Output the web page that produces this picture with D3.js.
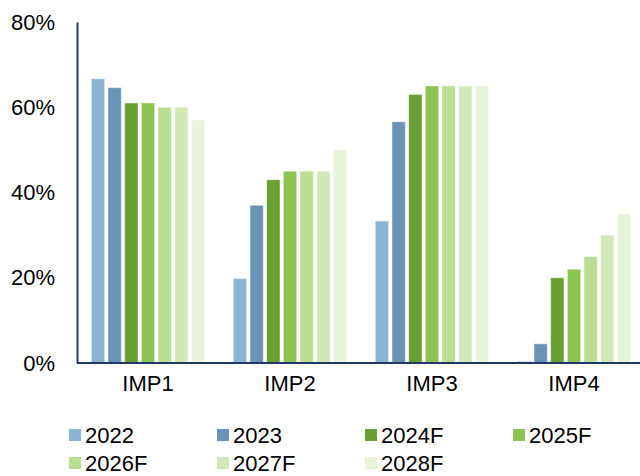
<!DOCTYPE html>
<html>
<head>
<meta charset="utf-8">
<script src="https://cdn.jsdelivr.net/npm/d3@7"></script>
<style>
  html, body { margin: 0; padding: 0; background: #fff; }
  svg { display: block; font-family: "Liberation Sans", Arial, sans-serif; }
</style>
</head>
<body>
<svg id="chart" width="640" height="476"></svg>
<script>
// Share by category and year (percent)
const categories = ["IMP1", "IMP2", "IMP3", "IMP4"];
const seriesNames = ["2022", "2023", "2024F", "2025F", "2026F", "2027F", "2028F"];
const values2022 = [66.7, 19.8, 33.3, 0.4];
const values2023 = [64.6, 37.0, 56.6, 4.5];
const values2024F = [61.0, 43.0, 63.0, 20.0];
const values2025F = [61.0, 45.0, 65.0, 22.0];
const values2026F = [60.0, 45.0, 65.0, 25.0];
const values2027F = [60.0, 45.0, 65.0, 30.0];
const values2028F = [57.0, 50.0, 65.0, 35.0];
const seriesValues = [values2022, values2023, values2024F, values2025F, values2026F, values2027F, values2028F];
const seriesColors = ["#8db3d3", "#6b93b5", "#6a9f34", "#8dc451", "#bcdd94", "#d3e8b9", "#e8f3db"];
const yTicks = [0, 20, 40, 60, 80];

const svg = d3.select("#chart");
const plot = { left: 77, right: 645, top: 22, bottom: 363 };

const x0 = d3.scaleBand().domain(categories).range([plot.left, plot.right])
  .paddingInner(0.178).paddingOuter(0.089);
const x1 = d3.scaleBand().domain(seriesNames).range([0, x0.bandwidth()])
  .paddingInner(0.2).paddingOuter(0.1);
const y = d3.scaleLinear().domain([0, 80]).range([plot.bottom, plot.top]);
const color = d3.scaleOrdinal().domain(seriesNames).range(seriesColors);

// Bars
const groups = svg.append("g").selectAll("g")
  .data(seriesNames.map((name, i) => ({ name, values: seriesValues[i] })))
  .join("g")
  .attr("fill", d => color(d.name));

groups.selectAll("rect")
  .data(d => d.values.map((v, j) => ({ name: d.name, cat: categories[j], v })))
  .join("rect")
  .attr("x", d => x0(d.cat) + x1(d.name))
  .attr("width", x1.bandwidth())
  .attr("y", d => y(d.v))
  .attr("height", d => y(0) - y(d.v))
  .attr("stroke", "#ffffff")
  .attr("stroke-opacity", 0.45)
  .attr("stroke-width", 1);

// Y axis
const yAxis = d3.axisLeft(y).tickValues(yTicks).tickSize(0).tickPadding(22)
  .tickFormat(d => d + "%");
const gy = svg.append("g").attr("transform", `translate(${plot.left},0)`).call(yAxis);
gy.select(".domain").attr("stroke", "#1f3864").attr("stroke-width", 2);
gy.selectAll("text").attr("font-size", 22).attr("fill", "#000")
  .attr("font-family", "Liberation Sans, Arial, sans-serif");

// X axis
const xAxis = d3.axisBottom(x0).tickSize(0).tickPadding(12);
const gx = svg.append("g").attr("transform", `translate(0,${plot.bottom})`).call(xAxis);
gx.select(".domain").attr("d", `M${plot.left},0H640`).attr("stroke", "#1f3864").attr("stroke-width", 2);
gx.selectAll("text").attr("font-size", 22).attr("fill", "#000")
  .attr("font-family", "Liberation Sans, Arial, sans-serif");

// Legend
const legend = svg.append("g");
const items = legend.selectAll("g").data(seriesNames).join("g")
  .attr("transform", (d, i) => `translate(${69 + (i % 4) * 148},${435 + Math.floor(i / 4) * 28})`);
items.append("rect").attr("x", 0).attr("y", -6).attr("width", 12).attr("height", 12)
  .attr("fill", d => color(d));
items.append("text").attr("x", 16).attr("y", 0).attr("dy", "0.36em")
  .attr("font-size", 22).attr("fill", "#000").text(d => d);
</script>
</body>
</html>
